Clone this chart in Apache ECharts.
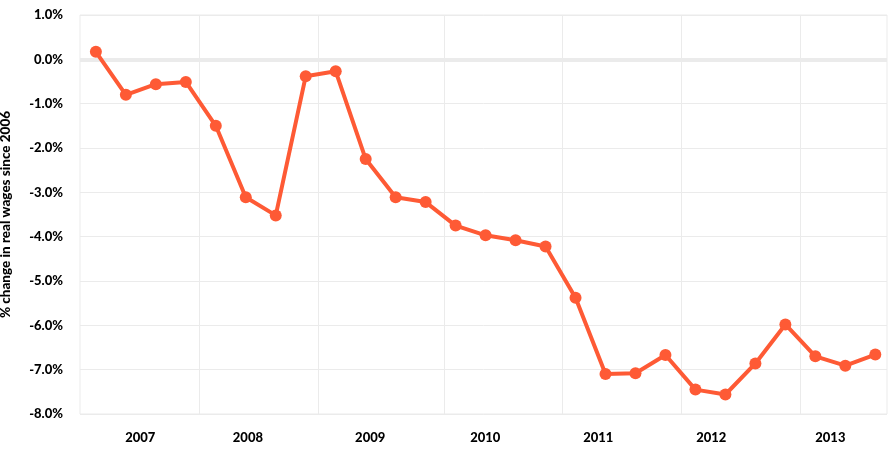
<!DOCTYPE html>
<html>
<head>
<meta charset="utf-8">
<script src="https://cdn.jsdelivr.net/npm/echarts@6/dist/echarts.min.js"></script>
<style>
  html, body { margin: 0; padding: 0; background: #fff; }
  #chart { width: 889px; height: 454px; }
</style>
</head>
<body>
<div id="chart"></div>
<script>
// Quarterly change in real wages since 2006 (%)
const wageChange = [
    0.17, -0.80, -0.56, -0.51, -1.50, -3.11, -3.52, -0.38, -0.27,
    -2.25, -3.11, -3.22, -3.75, -3.97, -4.08, -4.22, -5.38,
    -7.10, -7.08, -6.67, -7.45, -7.56, -6.86, -5.98, -6.70, -6.91, -6.66
];

// Year labels and where they sit along the quarter index
const yearLabels = ['2007', '2008', '2009', '2010', '2011', '2012', '2013'];
const yearLabelAt = [1.48, 5.07, 9.15, 12.99, 16.76, 20.53, 24.5];
// Year boundaries (vertical grid lines), in quarter index
const yearBoundaryAt = [3.46, 7.43, 11.63, 15.57, 19.52, 23.48];

const yTicks = [1, 0, -1, -2, -3, -4, -5, -6, -7, -8];

const chart = echarts.init(document.getElementById('chart'));

const points = wageChange.map((v, i) => [i, v]);

const labelFont = { color: '#000', fontFamily: 'Lato', fontWeight: 900, fontSize: 13 };

const chartOptions = {
    animation: false,
    grid: {
        left: 80, right: 2, top: 15, bottom: 40,
        outerBoundsMode: 'none',
        containLabel: false,
        show: true, borderColor: '#ebebeb', borderWidth: 1
    },
    xAxis: {
        type: 'value',
        min: -0.53,
        max: 26.39,
        axisLine: { show: false },
        axisTick: { show: false, customValues: yearBoundaryAt },
        splitLine: { show: true, lineStyle: { color: '#ebebeb', width: 1 } },
        axisLabel: Object.assign({
            customValues: yearLabelAt,
            margin: 17,
            formatter: function (val) {
                const idx = yearLabelAt.indexOf(val);
                return idx >= 0 ? yearLabels[idx] : '';
            }
        }, labelFont)
    },
    yAxis: {
        type: 'value',
        min: yTicks[yTicks.length - 1],
        max: yTicks[0],
        interval: 1,
        name: '% change in real wages since 2006',
        nameLocation: 'middle',
        nameGap: 67,
        nameTextStyle: { color: '#000', fontFamily: 'Lato', fontWeight: 900, fontSize: 13.5 },
        axisLine: { show: false },
        axisTick: { show: false },
        splitLine: { lineStyle: { color: '#ebebeb', width: 1 } },
        axisLabel: Object.assign({
            margin: 17,
            formatter: v => v.toFixed(1) + '%'
        }, labelFont)
    },
    series: [{
        type: 'line',
        data: points,
        z: 3,
        symbol: 'circle',
        symbolSize: 12,
        lineStyle: { color: '#fe5a35', width: 4 },
        itemStyle: { color: '#fe5a35' },
        markLine: {
            silent: true,
            z: 1,
            symbol: 'none',
            label: { show: false },
            lineStyle: { color: '#ebebeb', width: 4, type: 'solid' },
            data: [{ yAxis: 0 }]
        }
    }]
};

chart.setOption(chartOptions);
</script>
</body>
</html>
